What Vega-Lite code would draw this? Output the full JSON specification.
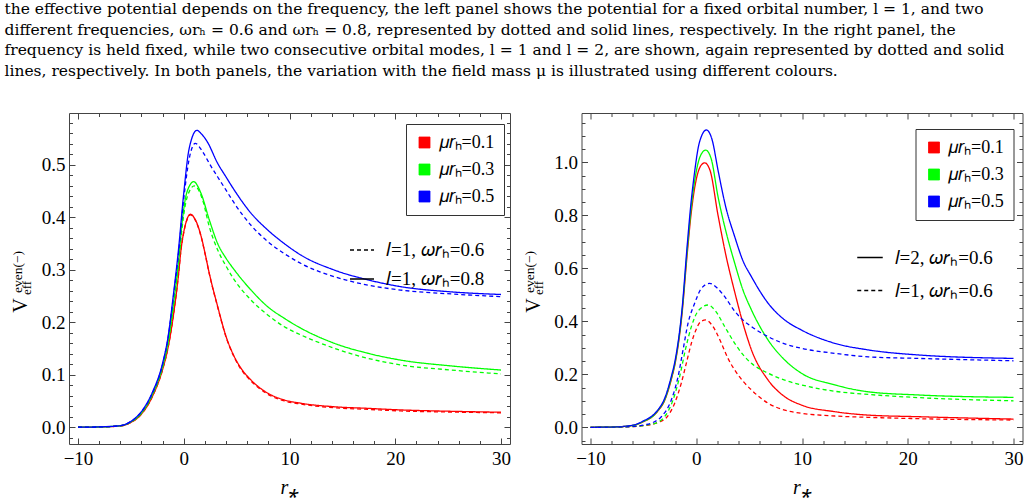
{
  "$schema": "https://vega.github.io/schema/vega-lite/v6.json",
  "padding": {"left": 4, "top": 2, "right": 0, "bottom": 0},
  "title": {
    "text": [
      "the effective potential depends on the frequency, the left panel shows the potential for a fixed orbital number, l = 1, and two",
      "different frequencies, ωrₕ = 0.6 and ωrₕ = 0.8, represented by dotted and solid lines, respectively. In the right panel, the",
      "frequency is held fixed, while two consecutive orbital modes, l = 1 and l = 2, are shown, again represented by dotted and solid",
      "lines, respectively. In both panels, the variation with the field mass μ is illustrated using different colours."
    ],
    "anchor": "start",
    "frame": "bounds",
    "dx": -5,
    "offset": 33,
    "font": "DejaVu Serif",
    "fontSize": 15.5,
    "fontWeight": "normal",
    "lineHeight": 20.5,
    "color": "black"
  },
  "config": {
    "font": "Liberation Serif",
    "view": {"stroke": "#444", "strokeWidth": 1},
    "axis": {
      "labelFont": "Liberation Serif", "labelFontSize": 19, "labelColor": "black",
      "titleFont": "Liberation Serif", "titleFontSize": 20, "titleFontWeight": "normal", "titleColor": "black",
      "tickColor": "#444", "tickWidth": 1, "domain": false, "grid": false,
      "labelOverlap": false, "labelFlush": false
    },
    "legend": {"labelFont": "Liberation Serif", "labelColor": "black"},
    "text": {"font": "Liberation Serif", "color": "black"}
  },
  "spacing": 9.5,
  "resolve": {"scale": {"color": "independent", "strokeDash": "independent"}},
  "datasets": {
    "left": [
      {"r":-10,"v":0,"mu":0.1,"w":0.8},{"r":-8,"v":0.0004,"mu":0.1,"w":0.8},{"r":-6,"v":0.0025,"mu":0.1,"w":0.8},{"r":-5,"v":0.009,"mu":0.1,"w":0.8},{"r":-4,"v":0.025,"mu":0.1,"w":0.8},{"r":-3,"v":0.057,"mu":0.1,"w":0.8},{"r":-2,"v":0.11,"mu":0.1,"w":0.8},{"r":-1.5,"v":0.15,"mu":0.1,"w":0.8},{"r":-1,"v":0.21,"mu":0.1,"w":0.8},{"r":-0.5,"v":0.29,"mu":0.1,"w":0.8},{"r":-0.25,"v":0.34,"mu":0.1,"w":0.8},{"r":0,"v":0.372,"mu":0.1,"w":0.8},{"r":0.3,"v":0.396,"mu":0.1,"w":0.8},{"r":0.62,"v":0.406,"mu":0.1,"w":0.8},{"r":1,"v":0.399,"mu":0.1,"w":0.8},{"r":1.63,"v":0.365,"mu":0.1,"w":0.8},{"r":2,"v":0.333,"mu":0.1,"w":0.8},{"r":2.42,"v":0.293,"mu":0.1,"w":0.8},{"r":3.21,"v":0.23,"mu":0.1,"w":0.8},{"r":4,"v":0.173,"mu":0.1,"w":0.8},{"r":4.78,"v":0.1345,"mu":0.1,"w":0.8},{"r":5.5,"v":0.11,"mu":0.1,"w":0.8},{"r":6.36,"v":0.09,"mu":0.1,"w":0.8},{"r":7.94,"v":0.065,"mu":0.1,"w":0.8},{"r":9.51,"v":0.052,"mu":0.1,"w":0.8},{"r":11.09,"v":0.0457,"mu":0.1,"w":0.8},{"r":14.24,"v":0.039,"mu":0.1,"w":0.8},{"r":17.4,"v":0.036,"mu":0.1,"w":0.8},{"r":20.5,"v":0.033,"mu":0.1,"w":0.8},{"r":25,"v":0.0305,"mu":0.1,"w":0.8},{"r":30,"v":0.0286,"mu":0.1,"w":0.8},
      {"r":-10,"v":0,"mu":0.1,"w":0.6},{"r":-8,"v":0.0004,"mu":0.1,"w":0.6},{"r":-6,"v":0.0025,"mu":0.1,"w":0.6},{"r":-5,"v":0.009,"mu":0.1,"w":0.6},{"r":-4,"v":0.025,"mu":0.1,"w":0.6},{"r":-3,"v":0.057,"mu":0.1,"w":0.6},{"r":-2,"v":0.11,"mu":0.1,"w":0.6},{"r":-1.5,"v":0.15,"mu":0.1,"w":0.6},{"r":-1,"v":0.21,"mu":0.1,"w":0.6},{"r":-0.5,"v":0.29,"mu":0.1,"w":0.6},{"r":-0.25,"v":0.34,"mu":0.1,"w":0.6},{"r":0,"v":0.371,"mu":0.1,"w":0.6},{"r":0.3,"v":0.395,"mu":0.1,"w":0.6},{"r":0.65,"v":0.405,"mu":0.1,"w":0.6},{"r":1,"v":0.398,"mu":0.1,"w":0.6},{"r":1.63,"v":0.364,"mu":0.1,"w":0.6},{"r":2,"v":0.332,"mu":0.1,"w":0.6},{"r":2.42,"v":0.292,"mu":0.1,"w":0.6},{"r":3.21,"v":0.229,"mu":0.1,"w":0.6},{"r":4,"v":0.172,"mu":0.1,"w":0.6},{"r":4.78,"v":0.133,"mu":0.1,"w":0.6},{"r":5.5,"v":0.108,"mu":0.1,"w":0.6},{"r":6.36,"v":0.088,"mu":0.1,"w":0.6},{"r":7.94,"v":0.063,"mu":0.1,"w":0.6},{"r":9.51,"v":0.05,"mu":0.1,"w":0.6},{"r":11.09,"v":0.044,"mu":0.1,"w":0.6},{"r":14.24,"v":0.037,"mu":0.1,"w":0.6},{"r":17.4,"v":0.034,"mu":0.1,"w":0.6},{"r":20.5,"v":0.031,"mu":0.1,"w":0.6},{"r":25,"v":0.029,"mu":0.1,"w":0.6},{"r":30,"v":0.0275,"mu":0.1,"w":0.6},
      {"r":-10,"v":0,"mu":0.3,"w":0.8},{"r":-8,"v":0.0005,"mu":0.3,"w":0.8},{"r":-6,"v":0.0028,"mu":0.3,"w":0.8},{"r":-5,"v":0.01,"mu":0.3,"w":0.8},{"r":-4,"v":0.027,"mu":0.3,"w":0.8},{"r":-3,"v":0.061,"mu":0.3,"w":0.8},{"r":-2,"v":0.116,"mu":0.3,"w":0.8},{"r":-1.5,"v":0.16,"mu":0.3,"w":0.8},{"r":-1,"v":0.23,"mu":0.3,"w":0.8},{"r":-0.5,"v":0.315,"mu":0.3,"w":0.8},{"r":-0.1,"v":0.4,"mu":0.3,"w":0.8},{"r":0.3,"v":0.448,"mu":0.3,"w":0.8},{"r":0.94,"v":0.468,"mu":0.3,"w":0.8},{"r":1.63,"v":0.446,"mu":0.3,"w":0.8},{"r":2.42,"v":0.395,"mu":0.3,"w":0.8},{"r":3.21,"v":0.35,"mu":0.3,"w":0.8},{"r":4,"v":0.322,"mu":0.3,"w":0.8},{"r":4.78,"v":0.3,"mu":0.3,"w":0.8},{"r":6.36,"v":0.2615,"mu":0.3,"w":0.8},{"r":7.94,"v":0.2297,"mu":0.3,"w":0.8},{"r":9.51,"v":0.2076,"mu":0.3,"w":0.8},{"r":11.09,"v":0.1886,"mu":0.3,"w":0.8},{"r":14.24,"v":0.16,"mu":0.3,"w":0.8},{"r":17.4,"v":0.141,"mu":0.3,"w":0.8},{"r":20.5,"v":0.128,"mu":0.3,"w":0.8},{"r":25.3,"v":0.1168,"mu":0.3,"w":0.8},{"r":30,"v":0.109,"mu":0.3,"w":0.8},
      {"r":-10,"v":0,"mu":0.3,"w":0.6},{"r":-8,"v":0.0005,"mu":0.3,"w":0.6},{"r":-6,"v":0.0028,"mu":0.3,"w":0.6},{"r":-5,"v":0.01,"mu":0.3,"w":0.6},{"r":-4,"v":0.027,"mu":0.3,"w":0.6},{"r":-3,"v":0.06,"mu":0.3,"w":0.6},{"r":-2,"v":0.114,"mu":0.3,"w":0.6},{"r":-1.5,"v":0.157,"mu":0.3,"w":0.6},{"r":-1,"v":0.226,"mu":0.3,"w":0.6},{"r":-0.5,"v":0.31,"mu":0.3,"w":0.6},{"r":-0.1,"v":0.39,"mu":0.3,"w":0.6},{"r":0.3,"v":0.437,"mu":0.3,"w":0.6},{"r":1,"v":0.46,"mu":0.3,"w":0.6},{"r":1.79,"v":0.433,"mu":0.3,"w":0.6},{"r":2.42,"v":0.382,"mu":0.3,"w":0.6},{"r":3.21,"v":0.338,"mu":0.3,"w":0.6},{"r":4,"v":0.307,"mu":0.3,"w":0.6},{"r":4.78,"v":0.281,"mu":0.3,"w":0.6},{"r":6.36,"v":0.2425,"mu":0.3,"w":0.6},{"r":7.94,"v":0.214,"mu":0.3,"w":0.6},{"r":9.51,"v":0.1916,"mu":0.3,"w":0.6},{"r":11.09,"v":0.1758,"mu":0.3,"w":0.6},{"r":14.24,"v":0.1505,"mu":0.3,"w":0.6},{"r":17.4,"v":0.1314,"mu":0.3,"w":0.6},{"r":20.5,"v":0.1187,"mu":0.3,"w":0.6},{"r":25.3,"v":0.109,"mu":0.3,"w":0.6},{"r":30,"v":0.1015,"mu":0.3,"w":0.6},
      {"r":-10,"v":0,"mu":0.5,"w":0.8},{"r":-8,"v":0.0006,"mu":0.5,"w":0.8},{"r":-6,"v":0.003,"mu":0.5,"w":0.8},{"r":-5,"v":0.011,"mu":0.5,"w":0.8},{"r":-4,"v":0.03,"mu":0.5,"w":0.8},{"r":-3,"v":0.065,"mu":0.5,"w":0.8},{"r":-2,"v":0.122,"mu":0.5,"w":0.8},{"r":-1.5,"v":0.17,"mu":0.5,"w":0.8},{"r":-1,"v":0.249,"mu":0.5,"w":0.8},{"r":-0.5,"v":0.338,"mu":0.5,"w":0.8},{"r":0,"v":0.446,"mu":0.5,"w":0.8},{"r":0.5,"v":0.53,"mu":0.5,"w":0.8},{"r":1.25,"v":0.566,"mu":0.5,"w":0.8},{"r":1.63,"v":0.56,"mu":0.5,"w":0.8},{"r":2.2,"v":0.545,"mu":0.5,"w":0.8},{"r":3.21,"v":0.503,"mu":0.5,"w":0.8},{"r":4,"v":0.477,"mu":0.5,"w":0.8},{"r":4.78,"v":0.452,"mu":0.5,"w":0.8},{"r":6.36,"v":0.408,"mu":0.5,"w":0.8},{"r":7.94,"v":0.376,"mu":0.5,"w":0.8},{"r":9.51,"v":0.35,"mu":0.5,"w":0.8},{"r":11.09,"v":0.328,"mu":0.5,"w":0.8},{"r":14.24,"v":0.2996,"mu":0.5,"w":0.8},{"r":17.4,"v":0.281,"mu":0.5,"w":0.8},{"r":20.5,"v":0.268,"mu":0.5,"w":0.8},{"r":25.3,"v":0.258,"mu":0.5,"w":0.8},{"r":30,"v":0.253,"mu":0.5,"w":0.8},
      {"r":-10,"v":0,"mu":0.5,"w":0.6},{"r":-8,"v":0.0006,"mu":0.5,"w":0.6},{"r":-6,"v":0.003,"mu":0.5,"w":0.6},{"r":-5,"v":0.011,"mu":0.5,"w":0.6},{"r":-4,"v":0.029,"mu":0.5,"w":0.6},{"r":-3,"v":0.063,"mu":0.5,"w":0.6},{"r":-2,"v":0.12,"mu":0.5,"w":0.6},{"r":-1.5,"v":0.168,"mu":0.5,"w":0.6},{"r":-1,"v":0.245,"mu":0.5,"w":0.6},{"r":-0.5,"v":0.33,"mu":0.5,"w":0.6},{"r":0,"v":0.435,"mu":0.5,"w":0.6},{"r":0.5,"v":0.51,"mu":0.5,"w":0.6},{"r":1.09,"v":0.541,"mu":0.5,"w":0.6},{"r":1.79,"v":0.525,"mu":0.5,"w":0.6},{"r":2.5,"v":0.5,"mu":0.5,"w":0.6},{"r":3.21,"v":0.477,"mu":0.5,"w":0.6},{"r":4,"v":0.452,"mu":0.5,"w":0.6},{"r":4.78,"v":0.427,"mu":0.5,"w":0.6},{"r":6.36,"v":0.385,"mu":0.5,"w":0.6},{"r":7.94,"v":0.354,"mu":0.5,"w":0.6},{"r":9.51,"v":0.331,"mu":0.5,"w":0.6},{"r":11.09,"v":0.312,"mu":0.5,"w":0.6},{"r":14.24,"v":0.287,"mu":0.5,"w":0.6},{"r":17.4,"v":0.271,"mu":0.5,"w":0.6},{"r":20.5,"v":0.2615,"mu":0.5,"w":0.6},{"r":25.3,"v":0.254,"mu":0.5,"w":0.6},{"r":30,"v":0.249,"mu":0.5,"w":0.6}
    ],
    "right": [
      {"r":-10,"v":0,"mu":0.1,"l":2},{"r":-8,"v":0.001,"mu":0.1,"l":2},{"r":-6,"v":0.007,"mu":0.1,"l":2},{"r":-5,"v":0.021,"mu":0.1,"l":2},{"r":-4,"v":0.045,"mu":0.1,"l":2},{"r":-3.62,"v":0.062,"mu":0.1,"l":2},{"r":-3,"v":0.1,"mu":0.1,"l":2},{"r":-2.36,"v":0.18,"mu":0.1,"l":2},{"r":-2,"v":0.24,"mu":0.1,"l":2},{"r":-1.35,"v":0.425,"mu":0.1,"l":2},{"r":-0.84,"v":0.66,"mu":0.1,"l":2},{"r":-0.5,"v":0.8,"mu":0.1,"l":2},{"r":0,"v":0.935,"mu":0.1,"l":2},{"r":0.4,"v":0.985,"mu":0.1,"l":2},{"r":0.8,"v":0.998,"mu":0.1,"l":2},{"r":1.3,"v":0.97,"mu":0.1,"l":2},{"r":2.06,"v":0.8,"mu":0.1,"l":2},{"r":2.8,"v":0.65,"mu":0.1,"l":2},{"r":3.64,"v":0.51,"mu":0.1,"l":2},{"r":4.58,"v":0.37,"mu":0.1,"l":2},{"r":5.22,"v":0.292,"mu":0.1,"l":2},{"r":6.8,"v":0.178,"mu":0.1,"l":2},{"r":8.37,"v":0.1155,"mu":0.1,"l":2},{"r":9.95,"v":0.084,"mu":0.1,"l":2},{"r":13.1,"v":0.059,"mu":0.1,"l":2},{"r":16.27,"v":0.046,"mu":0.1,"l":2},{"r":21,"v":0.04,"mu":0.1,"l":2},{"r":30,"v":0.031,"mu":0.1,"l":2},
      {"r":-10,"v":0,"mu":0.3,"l":2},{"r":-8,"v":0.001,"mu":0.3,"l":2},{"r":-6,"v":0.007,"mu":0.3,"l":2},{"r":-5,"v":0.022,"mu":0.3,"l":2},{"r":-4,"v":0.046,"mu":0.3,"l":2},{"r":-3.62,"v":0.064,"mu":0.3,"l":2},{"r":-3,"v":0.103,"mu":0.3,"l":2},{"r":-2.36,"v":0.185,"mu":0.3,"l":2},{"r":-2,"v":0.245,"mu":0.3,"l":2},{"r":-1.35,"v":0.435,"mu":0.3,"l":2},{"r":-0.84,"v":0.675,"mu":0.3,"l":2},{"r":-0.5,"v":0.82,"mu":0.3,"l":2},{"r":0,"v":0.965,"mu":0.3,"l":2},{"r":0.4,"v":1.025,"mu":0.3,"l":2},{"r":0.89,"v":1.046,"mu":0.3,"l":2},{"r":1.4,"v":1.015,"mu":0.3,"l":2},{"r":2.06,"v":0.87,"mu":0.3,"l":2},{"r":2.8,"v":0.74,"mu":0.3,"l":2},{"r":3.64,"v":0.619,"mu":0.3,"l":2},{"r":4.4,"v":0.52,"mu":0.3,"l":2},{"r":5.22,"v":0.443,"mu":0.3,"l":2},{"r":6.8,"v":0.329,"mu":0.3,"l":2},{"r":8.37,"v":0.254,"mu":0.3,"l":2},{"r":9.95,"v":0.204,"mu":0.3,"l":2},{"r":13.1,"v":0.16,"mu":0.3,"l":2},{"r":16.27,"v":0.134,"mu":0.3,"l":2},{"r":21,"v":0.122,"mu":0.3,"l":2},{"r":30,"v":0.113,"mu":0.3,"l":2},
      {"r":-10,"v":0,"mu":0.5,"l":2},{"r":-8,"v":0.001,"mu":0.5,"l":2},{"r":-6,"v":0.008,"mu":0.5,"l":2},{"r":-5,"v":0.024,"mu":0.5,"l":2},{"r":-4,"v":0.049,"mu":0.5,"l":2},{"r":-3.62,"v":0.066,"mu":0.5,"l":2},{"r":-3,"v":0.108,"mu":0.5,"l":2},{"r":-2.36,"v":0.191,"mu":0.5,"l":2},{"r":-2,"v":0.252,"mu":0.5,"l":2},{"r":-1.35,"v":0.443,"mu":0.5,"l":2},{"r":-0.84,"v":0.694,"mu":0.5,"l":2},{"r":-0.5,"v":0.845,"mu":0.5,"l":2},{"r":-0.21,"v":0.946,"mu":0.5,"l":2},{"r":0.3,"v":1.075,"mu":0.5,"l":2},{"r":0.96,"v":1.122,"mu":0.5,"l":2},{"r":1.5,"v":1.085,"mu":0.5,"l":2},{"r":2.06,"v":0.97,"mu":0.5,"l":2},{"r":2.8,"v":0.83,"mu":0.5,"l":2},{"r":3.64,"v":0.719,"mu":0.5,"l":2},{"r":4.4,"v":0.63,"mu":0.5,"l":2},{"r":5.22,"v":0.568,"mu":0.5,"l":2},{"r":6.8,"v":0.468,"mu":0.5,"l":2},{"r":8.37,"v":0.405,"mu":0.5,"l":2},{"r":9.95,"v":0.367,"mu":0.5,"l":2},{"r":13.1,"v":0.317,"mu":0.5,"l":2},{"r":16.27,"v":0.292,"mu":0.5,"l":2},{"r":21,"v":0.273,"mu":0.5,"l":2},{"r":30,"v":0.26,"mu":0.5,"l":2},
      {"r":-10,"v":0,"mu":0.1,"l":1},{"r":-8,"v":0.0005,"mu":0.1,"l":1},{"r":-6,"v":0.0025,"mu":0.1,"l":1},{"r":-5,"v":0.006,"mu":0.1,"l":1},{"r":-4.3,"v":0.01,"mu":0.1,"l":1},{"r":-3.5,"v":0.02,"mu":0.1,"l":1},{"r":-2.83,"v":0.036,"mu":0.1,"l":1},{"r":-2.05,"v":0.09,"mu":0.1,"l":1},{"r":-1.42,"v":0.166,"mu":0.1,"l":1},{"r":-0.94,"v":0.2415,"mu":0.1,"l":1},{"r":-0.46,"v":0.317,"mu":0.1,"l":1},{"r":0,"v":0.37,"mu":0.1,"l":1},{"r":0.4,"v":0.398,"mu":0.1,"l":1},{"r":0.89,"v":0.405,"mu":0.1,"l":1},{"r":1.5,"v":0.385,"mu":0.1,"l":1},{"r":2.38,"v":0.317,"mu":0.1,"l":1},{"r":3,"v":0.26,"mu":0.1,"l":1},{"r":3.64,"v":0.216,"mu":0.1,"l":1},{"r":4.4,"v":0.175,"mu":0.1,"l":1},{"r":5.22,"v":0.141,"mu":0.1,"l":1},{"r":6.8,"v":0.0906,"mu":0.1,"l":1},{"r":8.37,"v":0.065,"mu":0.1,"l":1},{"r":9.95,"v":0.053,"mu":0.1,"l":1},{"r":13.1,"v":0.0426,"mu":0.1,"l":1},{"r":16.27,"v":0.0377,"mu":0.1,"l":1},{"r":21,"v":0.0325,"mu":0.1,"l":1},{"r":30,"v":0.0275,"mu":0.1,"l":1},
      {"r":-10,"v":0,"mu":0.3,"l":1},{"r":-8,"v":0.0005,"mu":0.3,"l":1},{"r":-6,"v":0.003,"mu":0.3,"l":1},{"r":-4.6,"v":0.009,"mu":0.3,"l":1},{"r":-3.5,"v":0.022,"mu":0.3,"l":1},{"r":-2.99,"v":0.04,"mu":0.3,"l":1},{"r":-2.2,"v":0.103,"mu":0.3,"l":1},{"r":-1.57,"v":0.191,"mu":0.3,"l":1},{"r":-1.03,"v":0.292,"mu":0.3,"l":1},{"r":-0.46,"v":0.38,"mu":0.3,"l":1},{"r":0.2,"v":0.44,"mu":0.3,"l":1},{"r":1.11,"v":0.4615,"mu":0.3,"l":1},{"r":1.8,"v":0.44,"mu":0.3,"l":1},{"r":2.69,"v":0.38,"mu":0.3,"l":1},{"r":3.64,"v":0.317,"mu":0.3,"l":1},{"r":4.4,"v":0.275,"mu":0.3,"l":1},{"r":5.22,"v":0.2415,"mu":0.3,"l":1},{"r":6.8,"v":0.204,"mu":0.3,"l":1},{"r":8.37,"v":0.178,"mu":0.3,"l":1},{"r":9.95,"v":0.16,"mu":0.3,"l":1},{"r":13.1,"v":0.136,"mu":0.3,"l":1},{"r":16.27,"v":0.124,"mu":0.3,"l":1},{"r":21,"v":0.112,"mu":0.3,"l":1},{"r":30,"v":0.1,"mu":0.3,"l":1},
      {"r":-10,"v":0,"mu":0.5,"l":1},{"r":-8,"v":0.0006,"mu":0.5,"l":1},{"r":-6,"v":0.0035,"mu":0.5,"l":1},{"r":-4.9,"v":0.009,"mu":0.5,"l":1},{"r":-4,"v":0.02,"mu":0.5,"l":1},{"r":-3.3,"v":0.04,"mu":0.5,"l":1},{"r":-2.36,"v":0.103,"mu":0.5,"l":1},{"r":-1.72,"v":0.191,"mu":0.5,"l":1},{"r":-1.25,"v":0.292,"mu":0.5,"l":1},{"r":-0.78,"v":0.392,"mu":0.5,"l":1},{"r":-0.15,"v":0.468,"mu":0.5,"l":1},{"r":0.48,"v":0.524,"mu":0.5,"l":1},{"r":1.27,"v":0.543,"mu":0.5,"l":1},{"r":2,"v":0.525,"mu":0.5,"l":1},{"r":2.69,"v":0.493,"mu":0.5,"l":1},{"r":3.64,"v":0.438,"mu":0.5,"l":1},{"r":4.27,"v":0.41,"mu":0.5,"l":1},{"r":5.22,"v":0.38,"mu":0.5,"l":1},{"r":6.8,"v":0.342,"mu":0.5,"l":1},{"r":8.37,"v":0.315,"mu":0.5,"l":1},{"r":9.95,"v":0.298,"mu":0.5,"l":1},{"r":13.1,"v":0.279,"mu":0.5,"l":1},{"r":16.27,"v":0.266,"mu":0.5,"l":1},{"r":21,"v":0.26,"mu":0.5,"l":1},{"r":30,"v":0.251,"mu":0.5,"l":1}
    ]
  },
  "hconcat": [
    {
      "width": 441,
      "height": 331,
      "resolve": {"axis": {"x": "independent", "y": "independent"}},
      "layer": [
        {
          "data": {"name": "left"},
          "mark": {"type": "line", "interpolate": "monotone", "strokeWidth": 1.3, "clip": true},
          "encoding": {
            "x": {"field": "r", "type": "quantitative",
              "scale": {"domain": [-10.85, 30.85], "nice": false, "zero": false},
              "axis": {"orient": "bottom",
                "values": [-10,-8,-6,-4,-2,0,2,4,6,8,10,12,14,16,18,20,22,24,26,28,30],
                "labelExpr": "datum.value % 10 === 0 ? format(datum.value, 'd') : ''",
                "tickSize": {"condition": {"test": "datum.value % 10 === 0", "value": -6}, "value": -3.5},
                "labelPadding": 11.5, "title": "r⁎", "titleFontStyle": "italic", "titlePadding": 6}},
            "y": {"field": "v", "type": "quantitative",
              "scale": {"domain": [-0.032, 0.599], "nice": false, "zero": false},
              "axis": {"orient": "left",
                "values": [-0.02,0,0.02,0.04,0.06,0.08,0.1,0.12,0.14,0.16,0.18,0.2,0.22,0.24,0.26,0.28,0.3,0.32,0.34,0.36,0.38,0.4,0.42,0.44,0.46,0.48,0.5,0.52,0.54,0.56,0.58],
                "labelExpr": "abs(datum.value*10 - round(datum.value*10)) < 1e-6 ? format(datum.value, '.1f') : ''",
                "tickSize": {"condition": {"test": "abs(datum.value*10 - round(datum.value*10)) < 1e-6", "value": -6}, "value": -3.5},
                "labelPadding": 10,
                "title": "V", "titleFontSize": 20, "titleAngle": 270, "titleAlign": "center", "titleBaseline": "middle",
                "titleX": -48.5, "titleY": 192}},
            "color": {"field": "mu", "type": "nominal",
              "scale": {"domain": [0.1, 0.3, 0.5], "range": ["#ff0000", "#00ff00", "#0000ff"]},
              "legend": {"orient": "none", "legendX": 337, "legendY": 11, "title": null,
                "symbolType": "square", "symbolSize": 121, "symbolStrokeWidth": 0.8, "symbolOpacity": 1,
                "labelFontSize": 18, "labelExpr": "'𝜇𝑟ₕ=' + datum.label",
                "padding": 9.5, "rowPadding": 9, "labelOffset": 5,
                "strokeColor": "#333", "fillColor": "white",
                "encode": {"symbols": {"update": {
                  "fill": {"signal": "datum.value == 0.1 ? '#ff0000' : datum.value == 0.3 ? '#00ff00' : '#0000ff'"},
                  "stroke": {"signal": "datum.value == 0.1 ? '#b00000' : datum.value == 0.3 ? '#00a000' : '#0000b0'"}}}}}},
            "strokeDash": {"field": "w", "type": "nominal",
              "scale": {"domain": [0.6, 0.8], "range": [[4, 3], [1, 0]]},
              "legend": {"orient": "none", "legendX": 280, "legendY": 124, "title": null,
                "symbolType": "stroke", "symbolSize": 576, "symbolStrokeColor": "black", "symbolStrokeWidth": 1.3,
                "labelFontSize": 19, "labelExpr": "'𝑙=1, 𝜔𝑟ₕ=' + datum.label",
                "labelOffset": 11, "rowPadding": 6, "padding": 0}}
          }
        },
        {
          "mark": {"type": "text", "fontSize": 19, "align": "center", "baseline": "middle"},
          "encoding": {
            "x": {"datum": 10, "type": "quantitative",
              "scale": {"domain": [-10.85, 30.85], "nice": false, "zero": false},
              "axis": {"orient": "top", "values": [-10,-8,-6,-4,-2,0,2,4,6,8,10,12,14,16,18,20,22,24,26,28,30],
                "labels": false,
                "tickSize": {"condition": {"test": "datum.value % 10 === 0", "value": -6}, "value": -3.5},
                "title": "even(−)", "titleFontSize": 13.5, "titleAngle": 270, "titleAlign": "center", "titleBaseline": "middle",
                "titleX": -52, "titleY": 158.5}},
            "y": {"datum": 0.532, "type": "quantitative",
              "scale": {"domain": [-0.032, 0.599], "nice": false, "zero": false},
              "axis": {"orient": "right",
                "values": [-0.02,0,0.02,0.04,0.06,0.08,0.1,0.12,0.14,0.16,0.18,0.2,0.22,0.24,0.26,0.28,0.3,0.32,0.34,0.36,0.38,0.4,0.42,0.44,0.46,0.48,0.5,0.52,0.54,0.56,0.58],
                "labels": false,
                "tickSize": {"condition": {"test": "abs(datum.value*10 - round(datum.value*10)) < 1e-6", "value": -6}, "value": -3.5},
                "title": "eff", "titleFontSize": 13, "titleAngle": 270, "titleAlign": "center", "titleBaseline": "middle",
                "titleX": -484, "titleY": 174.5}},
            "text": {"value": "Even parity(−)"}
          }
        }
      ]
    },
    {
      "width": 441,
      "height": 331,
      "resolve": {"axis": {"x": "independent", "y": "independent"}},
      "layer": [
        {
          "data": {"name": "right"},
          "mark": {"type": "line", "interpolate": "monotone", "strokeWidth": 1.3, "clip": true},
          "encoding": {
            "x": {"field": "r", "type": "quantitative",
              "scale": {"domain": [-10.85, 30.85], "nice": false, "zero": false},
              "axis": {"orient": "bottom",
                "values": [-10,-8,-6,-4,-2,0,2,4,6,8,10,12,14,16,18,20,22,24,26,28,30],
                "labelExpr": "datum.value % 10 === 0 ? format(datum.value, 'd') : ''",
                "tickSize": {"condition": {"test": "datum.value % 10 === 0", "value": -6}, "value": -3.5},
                "labelPadding": 11.5, "title": "r⁎", "titleFontStyle": "italic", "titlePadding": 6}},
            "y": {"field": "v", "type": "quantitative",
              "scale": {"domain": [-0.063, 1.186], "nice": false, "zero": false},
              "axis": {"orient": "left",
                "values": [-0.05,0,0.05,0.1,0.15,0.2,0.25,0.3,0.35,0.4,0.45,0.5,0.55,0.6,0.65,0.7,0.75,0.8,0.85,0.9,0.95,1,1.05,1.1,1.15],
                "labelExpr": "abs(datum.value*5 - round(datum.value*5)) < 1e-6 ? format(datum.value, '.1f') : ''",
                "tickSize": {"condition": {"test": "abs(datum.value*5 - round(datum.value*5)) < 1e-6", "value": -6}, "value": -3.5},
                "labelPadding": 10,
                "title": "V", "titleFontSize": 20, "titleAngle": 270, "titleAlign": "center", "titleBaseline": "middle",
                "titleX": -48.5, "titleY": 192}},
            "color": {"field": "mu", "type": "nominal",
              "scale": {"domain": [0.1, 0.3, 0.5], "range": ["#ff0000", "#00ff00", "#0000ff"]},
              "legend": {"orient": "none", "legendX": 334, "legendY": 16, "title": null,
                "symbolType": "square", "symbolSize": 121, "symbolStrokeWidth": 0.8, "symbolOpacity": 1,
                "labelFontSize": 18, "labelExpr": "'𝜇𝑟ₕ=' + datum.label",
                "padding": 9.5, "rowPadding": 9, "labelOffset": 5,
                "strokeColor": "#333", "fillColor": "white",
                "encode": {"symbols": {"update": {
                  "fill": {"signal": "datum.value == 0.1 ? '#ff0000' : datum.value == 0.3 ? '#00ff00' : '#0000ff'"},
                  "stroke": {"signal": "datum.value == 0.1 ? '#b00000' : datum.value == 0.3 ? '#00a000' : '#0000b0'"}}}}}},
            "strokeDash": {"field": "l", "type": "nominal",
              "scale": {"domain": [2, 1], "range": [[1, 0], [4, 3]]},
              "legend": {"orient": "none", "legendX": 275, "legendY": 131, "title": null,
                "symbolType": "stroke", "symbolSize": 650, "symbolStrokeColor": "black", "symbolStrokeWidth": 1.3,
                "labelFontSize": 19, "labelExpr": "'𝑙=' + datum.label + ', 𝜔𝑟ₕ=0.6'",
                "labelOffset": 11, "rowPadding": 9, "padding": 0}}
          }
        },
        {
          "mark": {"type": "text", "fontSize": 19, "align": "center", "baseline": "middle"},
          "encoding": {
            "x": {"datum": 10, "type": "quantitative",
              "scale": {"domain": [-10.85, 30.85], "nice": false, "zero": false},
              "axis": {"orient": "top", "values": [-10,-8,-6,-4,-2,0,2,4,6,8,10,12,14,16,18,20,22,24,26,28,30],
                "labels": false,
                "tickSize": {"condition": {"test": "datum.value % 10 === 0", "value": -6}, "value": -3.5},
                "title": "even(−)", "titleFontSize": 13.5, "titleAngle": 270, "titleAlign": "center", "titleBaseline": "middle",
                "titleX": -52, "titleY": 158.5}},
            "y": {"datum": 1.059, "type": "quantitative",
              "scale": {"domain": [-0.063, 1.186], "nice": false, "zero": false},
              "axis": {"orient": "right",
                "values": [-0.05,0,0.05,0.1,0.15,0.2,0.25,0.3,0.35,0.4,0.45,0.5,0.55,0.6,0.65,0.7,0.75,0.8,0.85,0.9,0.95,1,1.05,1.1,1.15],
                "labels": false,
                "tickSize": {"condition": {"test": "abs(datum.value*5 - round(datum.value*5)) < 1e-6", "value": -6}, "value": -3.5},
                "title": "eff", "titleFontSize": 13, "titleAngle": 270, "titleAlign": "center", "titleBaseline": "middle",
                "titleX": -484, "titleY": 174.5}},
            "text": {"value": "Even parity(−)"}
          }
        }
      ]
    }
  ]
}
